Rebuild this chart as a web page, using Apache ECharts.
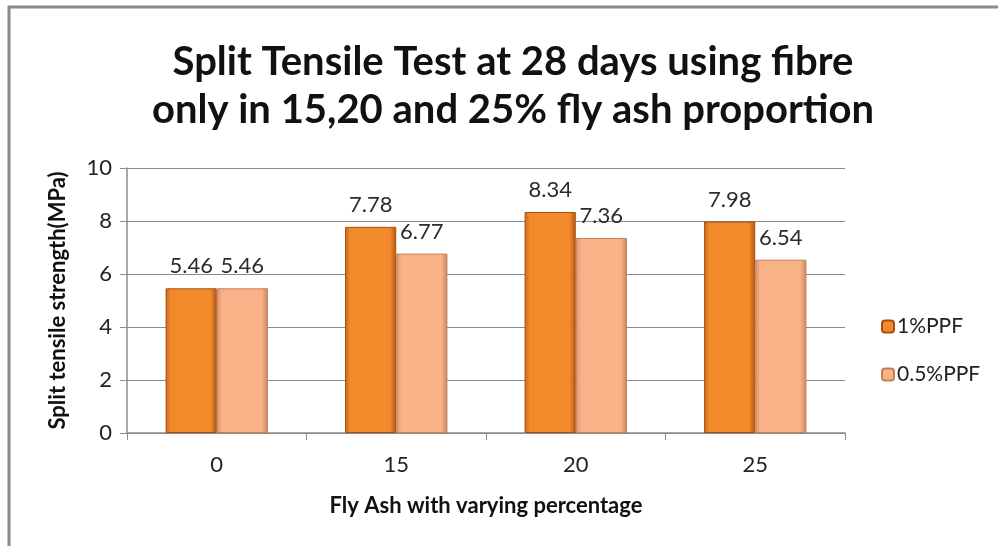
<!DOCTYPE html>
<html>
<head>
<meta charset="utf-8">
<script src="https://cdn.jsdelivr.net/npm/echarts@6/dist/echarts.min.js"></script>
<style>
  html, body { margin: 0; padding: 0; background: #fff; }
  #chart { width: 998px; height: 546px; }
</style>
</head>
<body>
<div id="chart"></div>
<script>
// fly ash percentage categories
const categories = ['0', '15', '20', '25']
const ppf1 = [5.46, 7.78, 8.34, 7.98]
const ppf05 = [5.46, 6.77, 7.36, 6.54]
const seriesNames = ['1%PPF', '0.5%PPF']
const yTicks = { min: 0, max: 10, interval: 2 }

const bevel = (edgeL, mid, edgeR) => new echarts.graphic.LinearGradient(0, 0, 1, 0, [
  { offset: 0, color: edgeL },
  { offset: 0.1, color: mid },
  { offset: 0.88, color: mid },
  { offset: 1, color: edgeR }
])

const color1 = bevel('#C8661C', '#F2892B', '#B35710')
const color2 = bevel('#D9936A', '#F9B287', '#C88660')

const chart = echarts.init(document.getElementById('chart'), null, { renderer: 'canvas' })

const labelStyle = {
  show: true,
  position: 'top',
  distance: 11,
  fontFamily: 'Lato',
  fontSize: 22,
  color: '#2b2b2b'
}

const option = {
  animation: false,
  backgroundColor: '#fff',
  graphic: [
    { type: 'line', shape: { x1: 8, y1: 7, x2: 998, y2: 7 }, style: { stroke: '#8a8a8a', lineWidth: 3 } },
    { type: 'line', shape: { x1: 9, y1: 6, x2: 9, y2: 546 }, style: { stroke: '#8a8a8a', lineWidth: 3 } }
  ],
  title: {
    text: 'Split Tensile Test at 28 days using fibre\nonly in 15,20 and 25% fly ash proportion',
    left: 508,
    textAlign: 'center',
    top: 33,
    textStyle: {
      fontFamily: 'Lato',
      fontWeight: 'bold',
      fontSize: 40,
      lineHeight: 48,
      color: '#111'
    }
  },
  legend: {
    orient: 'vertical',
    left: 876,
    top: 311,
    itemGap: 27,
    itemWidth: 12,
    itemHeight: 12,
    data: seriesNames,
    textStyle: { fontFamily: 'Lato', fontSize: 21, color: '#222', padding: [0, 0, 0, -2] }
  },
  grid: {
    left: 127,
    right: 153,
    top: 168,
    bottom: 113
  },
  xAxis: {
    type: 'category',
    data: categories,
    name: 'Fly Ash with varying percentage',
    nameLocation: 'middle',
    nameGap: 62,
    nameTextStyle: { fontFamily: 'Lato', fontWeight: 'bold', fontSize: 22, color: '#111' },
    axisLine: { lineStyle: { color: '#8c8c8c', width: 1.5 } },
    axisTick: { show: true, length: 7, lineStyle: { color: '#8c8c8c' } },
    axisLabel: { fontFamily: 'Lato', fontSize: 22, color: '#222', margin: 21 }
  },
  yAxis: {
    type: 'value',
    min: yTicks.min,
    max: yTicks.max,
    interval: yTicks.interval,
    name: 'Split tensile strength(MPa)',
    nameLocation: 'middle',
    nameGap: 58,
    nameTextStyle: { fontFamily: 'Lato', fontWeight: 'bold', fontSize: 22, color: '#111' },
    axisLine: { show: true, lineStyle: { color: '#8c8c8c', width: 1.5 } },
    axisTick: { show: true, length: 7, lineStyle: { color: '#8c8c8c' } },
    axisLabel: { fontFamily: 'Lato', fontSize: 22, color: '#222', margin: 15 },
    splitLine: { lineStyle: { color: '#8c8c8c', width: 1.2 } }
  },
  series: [
    {
      name: seriesNames[0],
      type: 'bar',
      data: ppf1,
      barGap: '0%',
      barCategoryGap: '43%',
      itemStyle: { color: color1, borderColor: '#A5500F', borderWidth: 1 },
      label: labelStyle
    },
    {
      name: seriesNames[1],
      type: 'bar',
      data: ppf05,
      itemStyle: { color: color2, borderColor: '#BF8058', borderWidth: 1 },
      label: labelStyle
    }
  ]
}

chart.setOption(option)
window.addEventListener('resize', chart.resize)
</script>
</body>
</html>
